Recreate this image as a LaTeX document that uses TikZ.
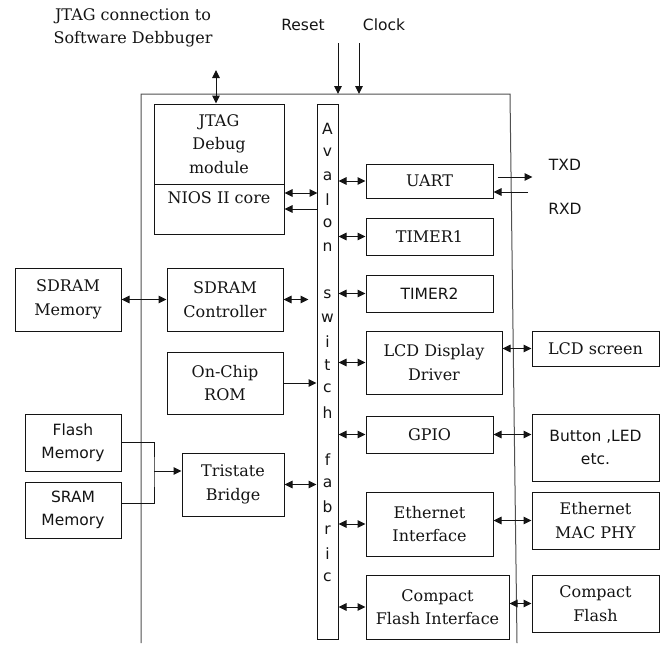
\documentclass[tikz,border=0pt]{standalone}
\usepackage{fontspec}
\setmainfont{DejaVu Serif}
\newfontfamily\mysansfam{DejaVu Sans}
\usetikzlibrary{arrows.meta}
\definecolor{chipc}{RGB}{80,80,80}
\definecolor{inkc}{RGB}{20,20,20}
\newcommand\myserif{\fontsize{16}{23.5}\selectfont}
\newcommand\mysans{\mysansfam\fontsize{15.5}{22.5}\selectfont}
\begin{document}
\begin{tikzpicture}[x=1pt,y=-1pt,
  bx/.style={draw=inkc, line width=1pt, inner sep=0pt, align=center, font=\myserif, text=inkc},
  sbx/.style={bx, font=\mysans},
  txt/.style={inner sep=0pt, align=center, font=\myserif, text=inkc},
  stxt/.style={inner sep=0pt, align=center, font=\mysans, text=inkc},
  sg/.style={draw=inkc, line width=1pt, -{Triangle[length=8pt,width=7.5pt]}},
  db/.style={draw=inkc, line width=1pt, {Triangle[length=8pt,width=7.5pt]}-{Triangle[length=8pt,width=7.5pt]}},
  chipline/.style={draw=chipc, line width=1pt}]
\useasboundingbox (0,0) rectangle (664,646);

% chip outline
\coordinate (chipBL) at (141,643);
\coordinate (chipTL) at (141,94);
\coordinate (chipTR) at (510,94);
\coordinate (chipBR) at (517,643);
\draw[chipline] (chipBL) -- (chipTL) -- (chipTR) -- (chipBR);

% top labels
\node[txt] (jtagtxt) at (133,28) {JTAG connection to\\Software Debbuger};
\node[stxt] (reset) at (303,25) {Reset};
\node[stxt] (clock) at (384,25) {Clock};
\coordinate (rs) at (338,43);
\coordinate (ck) at (359,43);
\draw[sg] (rs) -- (rs |- chipTL);
\draw[sg] (ck) -- (ck |- chipTL);

% JTAG / NIOS
\node[bx, minimum width=130pt, minimum height=80pt] (jtag) at (219,144) {JTAG\\Debug\\module};
\node[bx, minimum width=130pt, minimum height=50pt] (nios) at (219,209) {NIOS II core\\\mbox{}};
\coordinate (jt) at (216,70);
\draw[db] (jt) -- (jt |- jtag.north);

% Avalon switch fabric
\node[draw=inkc, line width=1pt, inner sep=0pt, minimum width=21pt, minimum height=535pt] (av) at (327.5,371.5) {};
\foreach \ch [count=\i from 0] in {A,v,a,l,o,n,{},s,w,i,t,c,h,{},f,a,b,r,i,c}
  \node[stxt] (av\i) at ({327.5},{129+23.6*\i}) {\ch};

% right-hand peripherals
\node[bx, minimum width=127pt, minimum height=34pt] (uart) at (429.5,181) {UART};
\node[bx, minimum width=127pt, minimum height=37pt] (timer1) at (429.5,236.5) {TIMER1};
\node[sbx, minimum width=127pt, minimum height=37pt] (timer2) at (429.5,293.5) {TIMER2};
\node[bx, minimum width=136pt, minimum height=63pt] (lcdd) at (434,362.5) {LCD Display\\Driver};
\node[bx, minimum width=127pt, minimum height=37pt] (gpio) at (429.5,434.5) {GPIO};
\node[bx, minimum width=127pt, minimum height=64pt] (eth) at (429.5,524) {Ethernet\\Interface};
\node[bx, minimum width=143pt, minimum height=64pt] (cfi) at (437.5,607) {Compact\\Flash Interface};

% external right
\node[bx, minimum width=127pt, minimum height=35pt] (lcds) at (595.5,348.5) {LCD screen};
\node[sbx, minimum width=127pt, minimum height=67pt] (btn) at (595.5,447.5) {Button ,LED\\etc.};
\node[bx, minimum width=127pt, minimum height=57pt] (mac) at (595.5,520.5) {Ethernet\\MAC PHY};
\node[bx, minimum width=127pt, minimum height=57pt] (cf) at (595.5,603.5) {Compact\\Flash};

% left side
\node[bx, minimum width=106pt, minimum height=63pt] (sdmem) at (68,299.5) {SDRAM\\Memory};
\node[bx, minimum width=116pt, minimum height=63pt] (sdctl) at (225,299.5) {SDRAM\\Controller};
\node[bx, minimum width=116pt, minimum height=62pt] (rom) at (225,383) {On-Chip\\ROM};
\node[sbx, minimum width=96pt, minimum height=57pt] (flash) at (73,442.5) {Flash\\Memory};
\node[sbx, minimum width=96pt, minimum height=56pt] (sram) at (73,510) {SRAM\\Memory};
\node[bx, minimum width=102pt, minimum height=63pt] (tri) at (233,484.5) {Tristate\\Bridge};

% UART lines
\node[stxt] (txd) at (565,165) {TXD};
\node[stxt] (rxd) at (565,209) {RXD};
\coordinate (rxin) at (528,192);
\draw[sg] ([xshift=4pt,yshift=4pt]uart.east) -- ++(35,0);
\draw[sg] (rxin) -- (uart.east |- rxin);

% connections to fabric (right)
\draw[db] (av.east |- uart.west) -- (uart.west);
\draw[db] (av.east |- timer1.west) -- (timer1.west);
\draw[db] (av.east |- timer2.west) -- (timer2.west);
\draw[db] (av.east |- lcdd.west) -- (lcdd.west);
\draw[db] (av.east |- gpio.west) -- (gpio.west);
\draw[db] (av.east |- eth.west) -- (eth.west);
\draw[db] (av.east |- cfi.west) -- (cfi.west);

% peripheral to external
\draw[db] (lcdd.east |- lcds.west) -- (lcds.west);
\draw[db] (gpio.east) -- (btn.west |- gpio.east);
\draw[db] (eth.east |- mac.west) -- (mac.west);
\draw[db] (cfi.east |- cf.west) -- (cf.west);

% NIOS to fabric
\draw[db] ([yshift=16pt]nios.east) -- ++(33,0);
\draw[sg] (av.west |- nios.east) -- (nios.east);

% left connections
\draw[db] (sdmem.east) -- (sdctl.west);
\draw[db] (sdctl.east) -- ([xshift=-8pt]av.west |- sdctl.east);
\draw[sg] (rom.east) -- (av.west |- rom.east);
\draw[db] (tri.east) -- (av.west |- tri.east);

% flash / sram bracket
\coordinate (bx) at (154,471);
\draw[draw=inkc, line width=1pt] (flash.east) -| (bx) |- ([yshift=7pt]sram.east);
\draw[sg] (bx) -- (tri.west |- bx);
\end{tikzpicture}
\end{document}
